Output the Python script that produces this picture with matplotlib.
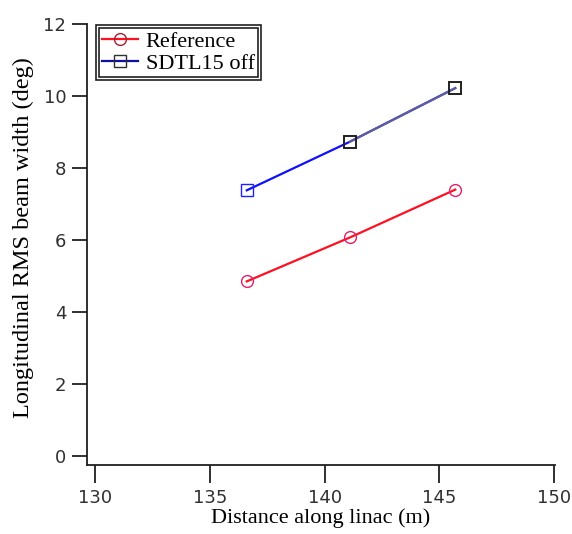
import matplotlib
matplotlib.use("Agg")
import matplotlib.pyplot as plt
from matplotlib.patches import Rectangle

# Beam width along the linac
distance_m = [136.6, 141.1, 145.7]
reference_deg = [4.85, 6.07, 7.40]
sdtl15_off_deg = [7.38, 8.73, 10.22]

x_ticks = [130, 135, 140, 145, 150]
y_ticks = [0, 2, 4, 6, 8, 10, 12]

serif = ["Liberation Serif", "DejaVu Serif"]
sans = ["DejaVu Sans"]

fig = plt.figure(figsize=(5.72, 5.34), dpi=100)
ax = fig.add_axes([87 / 572, 1 - 465 / 534, 468 / 572, 441 / 534])

# Reference trace
ax.plot(distance_m, reference_deg, color="#ff1020", lw=1.6, zorder=3)
ax.plot(distance_m, reference_deg, ls="none", marker="o", ms=8.5,
        mfc="none", mec="#e0206a", mew=1.0, zorder=4)

# SDTL15-off trace
ax.plot(distance_m, sdtl15_off_deg, color="#1010ff", lw=1.6, zorder=3)
ax.plot(distance_m[1:], sdtl15_off_deg[1:], color="#707080", lw=1.6,
        alpha=0.8, zorder=3)
ax.plot(distance_m[:1], sdtl15_off_deg[:1], ls="none", marker="s", ms=9,
        mfc="none", mec="#2020ff", mew=1.0, zorder=4)
ax.plot(distance_m[1:], sdtl15_off_deg[1:], ls="none", marker="s", ms=9,
        mfc="none", mec="#202020", mew=1.4, zorder=4)

ax.set_xlim(129.63, 150.05)
ax.set_ylim(-0.25, 12)
ax.set_xticks(x_ticks)
ax.set_yticks(y_ticks)
for s in ("top", "right"):
    ax.spines[s].set_visible(False)
for s in ("left", "bottom"):
    ax.spines[s].set_linewidth(1.3)
    ax.spines[s].set_color("#202020")
ax.tick_params(axis="both", direction="out", width=1.3, color="#202020",
               labelcolor="#303030", labelsize=13)
ax.tick_params(axis="y", length=11, pad=4)
ax.tick_params(axis="x", length=13, pad=4)
for lab in ax.get_xticklabels() + ax.get_yticklabels():
    lab.set_family(sans)

ax.set_xlabel("Distance along linac (m)", family=serif, fontsize=16,
              labelpad=1)
ax.set_ylabel("Longitudinal RMS beam width (deg)", family=serif,
              fontsize=17.5)
ax.yaxis.set_label_coords(-0.113, 0.515)

# Legend with a double frame
h1, = ax.plot([], [], color="#ff1020", lw=1.6, marker="o", ms=8.5,
              mfc="none", mec="#a02030", mew=1.0)
h2, = ax.plot([], [], color="#1010a0", lw=1.6, marker="s", ms=8.5,
              mfc="none", mec="#303030", mew=1.0)
leg = ax.legend([h1, h2], ["Reference", "SDTL15 off"],
                loc="upper left", bbox_to_anchor=(99 / 572, 1 - 28 / 534),
                bbox_transform=fig.transFigure, frameon=True, fancybox=False,
                edgecolor="#202020", framealpha=1, borderpad=0.15,
                handlelength=1.6, handletextpad=0.35, labelspacing=0.05,
                borderaxespad=0, prop={"family": serif, "size": 16})
leg.get_frame().set_linewidth(1.2)
fig.canvas.draw()
bb = leg.get_window_extent().transformed(fig.transFigure.inverted())
pad = 3 / 572
fig.patches.append(Rectangle((bb.x0 - pad, bb.y0 - pad * 572 / 534),
                             bb.width + 2 * pad, bb.height + 2 * pad * 572 / 534,
                             transform=fig.transFigure, fill=False,
                             edgecolor="#202020", lw=1.2, zorder=10))

fig.savefig("out.png", dpi=100)
